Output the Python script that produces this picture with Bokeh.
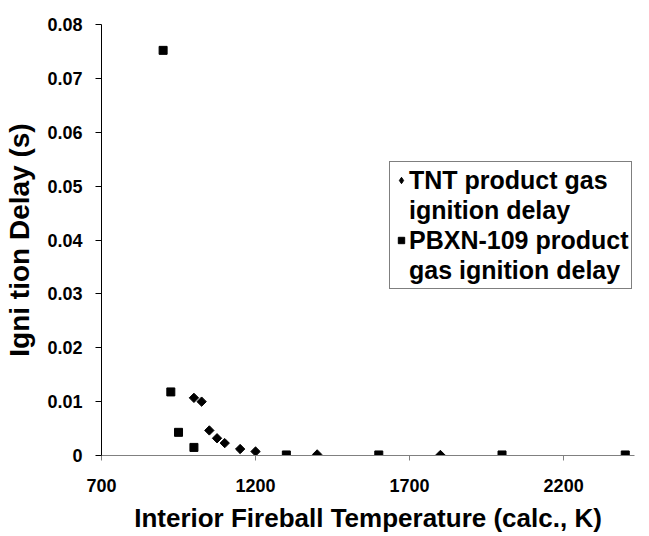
from bokeh.plotting import figure
from bokeh.models import Legend, LegendItem, Range1d, FixedTicker
from bokeh.embed import file_html
from bokeh.resources import INLINE
import numpy as np

# Ignition delay of detonation product gases vs. interior fireball temperature
tnt_temp = [1000, 1025, 1050, 1075, 1100, 1150, 1200, 1400, 1800]
tnt_delay = [0.0107, 0.0100, 0.00465, 0.0032, 0.0023, 0.0012, 0.00074, 0.0002, 0.0001]

pbx_temp = [900, 925, 950, 1000, 1300, 1600, 2000, 2400]
pbx_delay = [0.0752, 0.0118, 0.0043, 0.0015, 0.0001, 0.0001, 0.0001, 0.0001]

x_ticks = [700, 1200, 1700, 2200]
x_tick_labels = ["700", "1200", "1700", "2200"]
y_ticks = [0, 0.01, 0.02, 0.03, 0.04, 0.05, 0.06, 0.07, 0.08]
y_tick_labels = ["0", "0.01", "0.02", "0.03", "0.04", "0.05", "0.06", "0.07", "0.08"]

legend_lines_tnt = ["TNT product gas", "ignition delay"]
legend_lines_pbx = ["PBXN-109 product", "gas ignition delay"]

FONT = "Liberation Sans"

p = figure(width=649, height=536, output_backend="svg", toolbar_location=None,
           x_range=Range1d(700, 2430), y_range=Range1d(0, 0.08),
           min_border_left=101, min_border_right=15, min_border_top=24,
           min_border_bottom=81)
p.outline_line_color = None
p.xgrid.visible = False
p.ygrid.visible = False
p.background_fill_color = "white"
p.border_fill_color = "white"

# TNT points as squares turned 45 degrees (even-sided diamonds)
tnt = p.scatter(tnt_temp, tnt_delay, marker="square", angle=np.pi / 4, size=6.6,
                fill_color="black", line_color="black")
pbx = p.scatter(pbx_temp, pbx_delay, marker="square", size=8,
                fill_color="black", line_color="black")
# off-canvas renderers used only for legend swatches
tnt_key = p.scatter(x=[np.nan], y=[np.nan], marker="diamond",
                    fill_color="black", line_color="black")
blank = p.scatter(x=[np.nan], y=[np.nan], marker="square", fill_alpha=0, line_alpha=0)

# x axis
xa = p.xaxis[0]
xa.ticker = FixedTicker(ticks=x_ticks)
xa.major_label_overrides = {t: s for t, s in zip(x_ticks, x_tick_labels)}
xa.axis_line_color = "#808080"
xa.major_tick_line_color = "#808080"
xa.major_tick_out = 5
xa.major_tick_in = 0
xa.minor_tick_line_color = None
xa.major_label_standoff = 18
xa.major_label_text_font = FONT
xa.major_label_text_font_style = "bold"
xa.major_label_text_font_size = "18px"
xa.major_label_text_color = "black"
xa.axis_label = "Interior Fireball Temperature (calc., K)"
xa.axis_label_text_font = FONT
xa.axis_label_text_font_style = "bold"
xa.axis_label_text_font_size = "26px"
xa.axis_label_text_color = "black"
xa.axis_label_standoff = 8

# y axis
ya = p.yaxis[0]
ya.ticker = FixedTicker(ticks=y_ticks)
ya.major_label_overrides = {t: s for t, s in zip(y_ticks, y_tick_labels)}
ya.axis_line_color = "black"
ya.major_tick_line_color = "black"
ya.major_tick_out = 6
ya.major_tick_in = 0
ya.minor_tick_line_color = None
ya.major_label_standoff = 13
ya.major_label_text_font = FONT
ya.major_label_text_font_style = "bold"
ya.major_label_text_font_size = "18px"
ya.major_label_text_color = "black"
ya.axis_label = "Igni tion Delay (s)"
ya.axis_label_text_font = FONT
ya.axis_label_text_font_style = "bold"
ya.axis_label_text_font_size = "28px"
ya.axis_label_text_color = "black"
ya.axis_label_standoff = 9

legend = Legend(items=[
    LegendItem(label=legend_lines_tnt[0], renderers=[tnt_key]),
    LegendItem(label=legend_lines_tnt[1], renderers=[blank]),
    LegendItem(label=legend_lines_pbx[0], renderers=[pbx]),
    LegendItem(label=legend_lines_pbx[1], renderers=[blank]),
], location=(288, 166))
legend.label_text_font = FONT
legend.label_text_font_style = "bold"
legend.label_text_font_size = "25px"
legend.label_text_color = "black"
legend.label_height = 30
legend.label_width = 219
legend.glyph_width = 16
legend.glyph_height = 16
legend.label_standoff = 0
legend.padding = 3
legend.spacing = 0
legend.margin = 0
legend.border_line_color = "black"
legend.border_line_width = 1
legend.background_fill_color = "white"
legend.background_fill_alpha = 1.0
p.add_layout(legend, "center")

open("out.html", "w").write(file_html(p, INLINE))
